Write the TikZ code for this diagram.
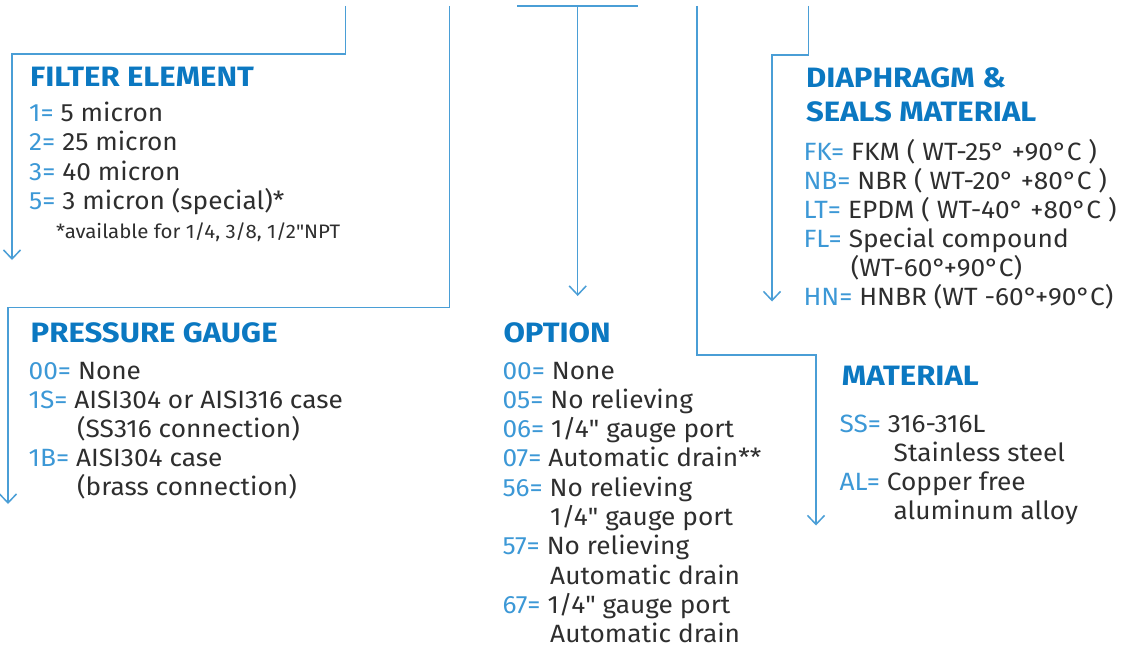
\documentclass[tikz,border=0pt]{standalone}
\usepackage{fontspec}
\setmainfont{Fira Sans}[FakeStretch=1.05]
\newfontfamily\headfont{Fira Sans}[FakeStretch=1.11]
\newfontfamily\qfont{Fira Sans}[FakeStretch=1.05, Ligatures=TeXOff]
\usetikzlibrary{arrows.meta}
\definecolor{lineblue}{HTML}{4A9ED6}
\definecolor{headblue}{HTML}{0B78C1}
\definecolor{codeblue}{HTML}{3C98D6}
\definecolor{txt}{HTML}{2E2E2E}
\newcommand{\cd}[1]{\textcolor{codeblue}{#1}}
\newcommand{\dq}{{\qfont"}}
\tikzset{
  conn/.style={draw=lineblue, line width=1.5pt, -{Straight Barb[length=9pt,width=17pt,line width=1.5pt]}},
  plainline/.style={draw=lineblue, line width=1.5pt},
  head/.style={anchor=base west, inner sep=0pt, text=headblue, font=\fontsize{28}{34}\headfont\bfseries},
  item/.style={anchor=base west, inner sep=0pt, text=txt, font=\fontsize{25}{29}\selectfont},
  note/.style={anchor=base west, inner sep=0pt, text=txt, font=\fontsize{19.5}{23}\selectfont},
}
\begin{document}
\begin{tikzpicture}[x=1pt,y=-1pt]
\useasboundingbox (0,0) rectangle (1131,647);

% ---------- connectors ----------
\coordinate (fe-a) at (345.5,6);
\coordinate (fe-b) at (345.5,54);
\coordinate (fe-c) at (12,54);
\coordinate (fe-d) at (12,260);
\draw[conn] (fe-a) -- (fe-b) -- (fe-c) -- (fe-d);

\coordinate (pg-a) at (449.5,6);
\coordinate (pg-b) at (449.5,307.5);
\coordinate (pg-c) at (8,307.5);
\coordinate (pg-d) at (8,504);
\draw[conn] (pg-a) -- (pg-b) -- (pg-c) -- (pg-d);

\coordinate (op-l) at (517,6);
\coordinate (op-r) at (638,6);
\coordinate (op-a) at (577.7,6);
\coordinate (op-d) at (577.7,296);
\draw[plainline] (op-l) -- (op-r);
\draw[conn] (op-a) -- (op-d);

\coordinate (ma-a) at (697,6);
\coordinate (ma-b) at (697,355);
\coordinate (ma-c) at (816,355);
\coordinate (ma-d) at (816,525.5);
\draw[conn] (ma-a) -- (ma-b) -- (ma-c) -- (ma-d);

\coordinate (dm-a) at (808.7,6);
\coordinate (dm-b) at (808.7,55);
\coordinate (dm-c) at (772,55);
\coordinate (dm-d) at (772,301.5);
\draw[conn] (dm-a) -- (dm-b) -- (dm-c) -- (dm-d);

% ---------- filter element ----------
\node[head] (fe-h) at (30,86.5) {FILTER ELEMENT};
\node[item] (fe-1) at (29,121.5) {\cd{1=} 5 micron};
\node[item] (fe-2) at (29,150.7) {\cd{2=} 25 micron};
\node[item] (fe-3) at (29,180) {\cd{3=} 40 micron};
\node[item] (fe-5) at (29,209.2) {\cd{5=} 3 micron (special)*};
\node[note] (fe-n) at (56,238) {*available for 1/4, 3/8, 1/2\dq NPT};

% ---------- pressure gauge ----------
\node[head] (pg-h) at (30.5,342.5) {PRESSURE GAUGE};
\node[item] (pg-1) at (28.5,379) {\cd{00=} None};
\node[item] (pg-2) at (28.5,408.2) {\cd{1S=} AISI304 or AISI316 case};
\node[item] (pg-2b) at (77,437.4) {(SS316 connection)};
\node[item] (pg-3) at (28.5,466.6) {\cd{1B=} AISI304 case};
\node[item] (pg-3b) at (77,495.8) {(brass connection)};

% ---------- option ----------
\node[head] (op-h) at (503.3,342.3) {OPTION};
\node[item] (op-1) at (502.3,379) {\cd{00=} None};
\node[item] (op-2) at (502.3,408.3) {\cd{05=} No relieving};
\node[item] (op-3) at (502.3,437.6) {\cd{06=} 1/4\dq{} gauge port};
\node[item] (op-4) at (502.3,466.9) {\cd{07=} Automatic drain**};
\node[item] (op-5) at (502.3,496.2) {\cd{56=} No relieving};
\node[item] (op-5b) at (550,525.5) {1/4\dq{} gauge port};
\node[item] (op-6) at (502.3,554.8) {\cd{57=} No relieving};
\node[item] (op-6b) at (550,584.1) {Automatic drain};
\node[item] (op-7) at (502.3,613.4) {\cd{67=} 1/4\dq{} gauge port};
\node[item] (op-7b) at (550,642.2) {Automatic drain};

% ---------- diaphragm & seals ----------
\node[head] (dm-h1) at (806,87.7) {DIAPHRAGM \&};
\node[head] (dm-h2) at (806,121.7) {SEALS MATERIAL};
\node[item] (dm-1) at (803.3,160.5) {\cd{FK=} FKM ( WT-25° +90°C )};
\node[item] (dm-2) at (803.3,189.5) {\cd{NB=} NBR ( WT-20° +80°C )};
\node[item] (dm-3) at (803.3,218.5) {\cd{LT=} EPDM ( WT-40° +80°C )};
\node[item] (dm-4) at (803.3,247.5) {\cd{FL=} Special compound};
\node[item] (dm-4b) at (850.7,276.5) {(WT-60°+90°C)};
\node[item] (dm-5) at (803.3,305.5) {\cd{HN=} HNBR (WT -60°+90°C)};

% ---------- material ----------
\node[head] (ma-h) at (841.7,385.7) {MATERIAL};
\node[item] (ma-1) at (839.3,432.3) {\cd{SS=} 316-316L};
\node[item] (ma-1b) at (893.5,461.2) {Stainless steel};
\node[item] (ma-2) at (839.3,490) {\cd{AL=} Copper free};
\node[item] (ma-2b) at (893.5,519) {aluminum alloy};
\end{tikzpicture}
\end{document}
